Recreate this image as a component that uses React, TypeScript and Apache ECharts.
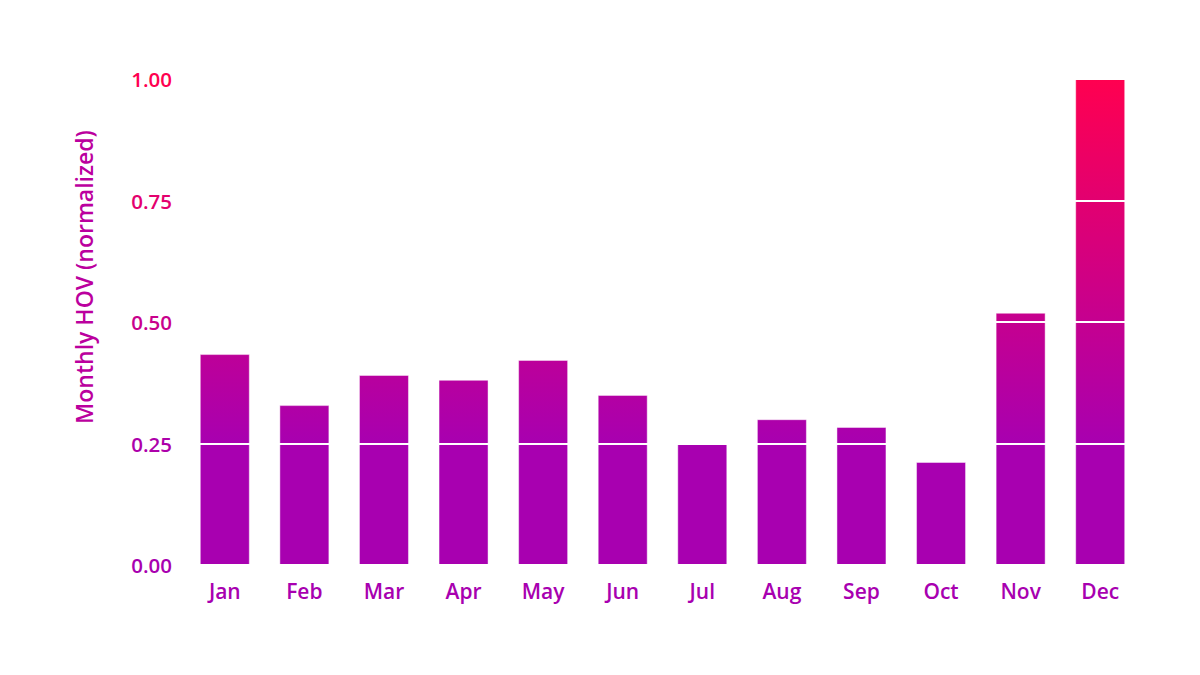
import React, { useEffect, useRef } from "react";
import * as echarts from "echarts";

const months = ["Jan", "Feb", "Mar", "Apr", "May", "Jun", "Jul", "Aug", "Sep", "Oct", "Nov", "Dec"];
const hov = [0.434, 0.329, 0.391, 0.381, 0.422, 0.35, 0.251, 0.3, 0.284, 0.212, 0.519, 1.0];

const FONT = "Open Sans";
const PURPLE = "#a800b0";
const RED = "#ff0050";

function mix(a: string, b: string, t: number) {
  const pa = [1, 3, 5].map((i) => parseInt(a.slice(i, i + 2), 16));
  const pb = [1, 3, 5].map((i) => parseInt(b.slice(i, i + 2), 16));
  const c = pa.map((v, i) => Math.round(v + (pb[i] - v) * t));
  return "#" + c.map((v) => v.toString(16).padStart(2, "0")).join("");
}
function colorAt(v: number) {
  const t = Math.max(0, Math.min(1, (v - 0.2) / 0.8));
  return mix(PURPLE, RED, t);
}

export default function App() {
  const ref = useRef<HTMLDivElement>(null);
  useEffect(() => {
    if (!ref.current) return;
    const chart = echarts.init(ref.current, null, { renderer: "svg" });
    const gridTop = 79;
    const gridBottomY = 565;
    const barGradient = new echarts.graphic.LinearGradient(
      0, gridBottomY, 0, gridTop,
      [
        { offset: 0, color: PURPLE },
        { offset: 0.25, color: PURPLE },
        { offset: 1, color: RED },
      ],
      true
    );
    chart.setOption({
      animation: false,
      backgroundColor: "#ffffff",
      grid: { left: 185, right: 60, top: gridTop, bottom: 675 - gridBottomY },
      xAxis: {
        type: "category",
        data: months,
        axisLine: { show: false },
        axisTick: { show: false },
        axisLabel: {
          color: PURPLE,
          fontFamily: FONT,
          fontWeight: 600,
          fontSize: 21,
          margin: 15,
        },
      },
      yAxis: {
        type: "value",
        min: 0,
        max: 1,
        interval: 0.25,
        z: 5,
        axisLine: { show: false },
        axisTick: { show: false },
        splitLine: { show: true, lineStyle: { color: "#ffffff", width: 2 } },
        axisLabel: {
          fontFamily: FONT,
          fontWeight: 600,
          fontSize: 20.5,
          margin: 13,
          formatter: (v: number) => v.toFixed(2),
          color: (v: any) => colorAt(Number(v)),
        },
      },
      graphic: [
        {
          type: "text",
          x: 84,
          y: 277,
          rotation: Math.PI / 2,
          style: {
            text: "Monthly HOV (normalized)",
            fontFamily: FONT,
            fontWeight: 600,
            fontSize: 23,
            textAlign: "center",
            textVerticalAlign: "middle",
            fill: "#bb009e",
          },
        },
      ],
      series: [
        {
          type: "bar",
          data: hov,
          barWidth: 50,
          itemStyle: {
            color: barGradient,
            borderColor: "rgba(255,255,255,0.45)",
            borderWidth: 1,
          },
        },
      ],
    });
    return () => chart.dispose();
  }, []);
  return (
    <div
      ref={ref}
      style={{ position: "fixed", left: 0, top: 0, width: 1200, height: 675 }}
    />
  );
}
